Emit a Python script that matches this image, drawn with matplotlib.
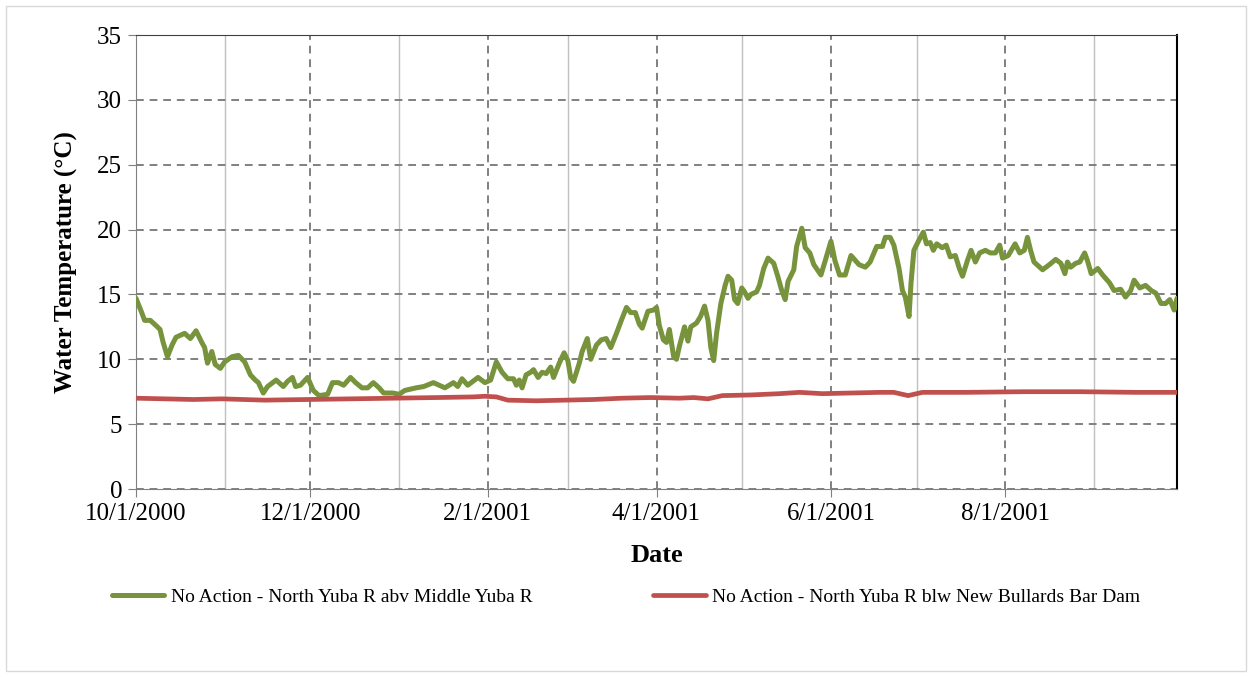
import numpy as np
import pandas as pd
import matplotlib
matplotlib.use('Agg')
from matplotlib import pyplot as plt
import matplotlib.dates as mdates
from matplotlib.patches import Rectangle

plt.rcParams['font.family'] = ['Liberation Serif', 'DejaVu Serif']

start_date = '2000-10-01'
end_date = '2001-09-30'

# days after 10/1/2000
green_day = [0, 2, 3, 5, 7, 8.4, 9.5, 11, 12.6, 14, 17, 19, 21, 23, 24, 25, 26.5, 27.7, 29.5, 31,
             33.6, 35.8, 38, 40, 41.7, 42.8, 44.5, 46, 49, 51.5, 53, 54.7, 55.8, 57.5, 60, 62, 64,
             67, 68.7, 70.8, 72.6, 75, 76.8, 79, 81, 83, 85, 86.6, 89.8, 92, 94, 98, 100.6, 104,
             106, 108, 111, 112.5, 114, 116, 119.6, 122, 124, 126, 128, 130, 132, 133, 134, 135,
             136.4, 138, 139, 140.6, 142, 143.4, 145, 146, 148, 149.7, 151, 152, 153, 155, 156,
             157.8, 159, 161, 162.7, 164.4, 166, 168, 169.7, 171.5, 173, 174.6, 176, 177, 179,
             181, 182, 183, 184.4, 185.5, 186.5, 188, 189, 190, 191.8, 193, 194, 196, 197.4,
             198.8, 200, 201, 202, 203, 204.5, 206, 207, 208.3, 209.3, 210.4, 211.8, 212.8, 214,
             215, 217, 218, 219.5, 221, 223, 224.4, 225.8, 227, 228, 230, 231, 232.8, 234, 235.6,
             237, 239.5, 241, 243, 244.4, 246, 248, 250, 252.8, 255, 256.7, 259, 261, 262, 263.7,
             265, 266.8, 268, 269, 270.3, 271, 272, 273.8, 275.3, 276.4, 277.7, 278.8, 280, 281.9,
             283.3, 284.7, 286.5, 287.9, 289, 290.7, 292, 293.5, 295, 297, 298.7, 300.5, 302, 303,
             305, 307.4, 309, 310.6, 311.7, 312.8, 314, 317, 319.4, 321.6, 323.4, 324.8, 325.7,
             326.8, 328.6, 330, 331.7, 332.7, 334, 336.3, 338, 340.4, 342, 344.3, 346, 347.8, 349,
             351, 353, 355, 356.6, 358.4, 360, 361.5, 363, 364]
green_temp = [14.7, 13.6, 13.0, 13.0, 12.6, 12.3, 11.3, 10.2, 11.1, 11.7, 12.0, 11.6, 12.2, 11.3, 10.9,
              9.7, 10.6, 9.6, 9.3, 9.8, 10.2, 10.3, 9.8, 8.8, 8.4, 8.2, 7.4, 7.9, 8.4, 7.9, 8.3, 8.6,
              7.9, 8.0, 8.6, 7.6, 7.2, 7.3, 8.2, 8.2, 8.0, 8.6, 8.2, 7.8, 7.8, 8.2, 7.8, 7.4, 7.4,
              7.3, 7.6, 7.8, 7.9, 8.2, 8.0, 7.8, 8.2, 7.9, 8.5, 8.0, 8.6, 8.2, 8.4, 9.8, 9.0, 8.5,
              8.5, 8.0, 8.4, 7.8, 8.8, 9.0, 9.2, 8.6, 9.0, 8.9, 9.4, 8.6, 9.7, 10.5, 9.9, 8.6, 8.3,
              9.7, 10.6, 11.6, 10.0, 11.1, 11.5, 11.6, 10.9, 12.0, 13.0, 14.0, 13.6, 13.6, 12.7,
              12.4, 13.7, 13.8, 14.0, 12.6, 11.5, 11.3, 12.3, 10.2, 10.0, 11.0, 12.5, 11.4, 12.5,
              12.8, 13.3, 14.1, 13.0, 10.9, 9.9, 12.0, 14.3, 15.7, 16.4, 16.1, 14.6, 14.3, 15.5,
              15.2, 14.7, 15.0, 15.2, 15.7, 17.0, 17.8, 17.4, 16.4, 15.3, 14.6, 16.0, 16.9, 18.7,
              20.1, 18.6, 18.2, 17.3, 16.5, 17.6, 19.1, 17.6, 16.5, 16.5, 18.0, 17.3, 17.1, 17.5,
              18.7, 18.7, 19.4, 19.4, 18.8, 17.0, 15.3, 14.8, 13.3, 15.9, 18.4, 19.2, 19.8, 18.9,
              19.0, 18.4, 18.9, 18.6, 18.8, 17.9, 18.0, 17.0, 16.4, 17.6, 18.4, 17.5, 18.2, 18.4,
              18.2, 18.2, 18.8, 17.8, 18.0, 18.9, 18.2, 18.4, 19.4, 18.4, 17.5, 16.9, 17.3, 17.7,
              17.4, 16.6, 17.5, 17.1, 17.4, 17.5, 18.2, 17.6, 16.6, 17.0, 16.5, 15.9, 15.3, 15.4,
              14.8, 15.3, 16.1, 15.5, 15.7, 15.3, 15.1, 14.3, 14.3, 14.6, 13.8, 14.7]

red_day = [0, 10, 20, 30, 45, 60, 75, 90, 105, 118, 122, 126, 130, 140, 150, 160, 170, 180, 190,
           195, 200, 205, 215, 225, 232, 240, 250, 260, 265, 270, 275, 290, 310, 330, 350, 364]
red_temp = [7.0, 6.95, 6.9, 6.95, 6.85, 6.9, 6.95, 7.0, 7.05, 7.1, 7.15, 7.1, 6.85, 6.8, 6.85, 6.9,
            7.0, 7.05, 7.0, 7.05, 6.95, 7.2, 7.25, 7.35, 7.45, 7.35, 7.4, 7.45, 7.45, 7.2, 7.45,
            7.45, 7.5, 7.5, 7.45, 7.45]

green_label = 'No Action - North Yuba R abv Middle Yuba R'
red_label = 'No Action - North Yuba R blw New Bullards Bar Dam'


def to_dates(days):
    return pd.Timestamp(start_date) + pd.to_timedelta(days, unit='D')


fig = plt.figure(figsize=(12.52, 6.77), dpi=100)
fig.patches.append(Rectangle((6 / 1252, 6 / 677), 1240 / 1252, 665 / 677, transform=fig.transFigure,
                             fill=False, edgecolor='#d9d9d9', linewidth=1))
ax = fig.add_axes([136 / 1252, 1 - 489 / 677, (1177 - 136) / 1252, (489 - 35) / 677])

ax.plot(to_dates(green_day), green_temp, color='#77933C', linewidth=3.6, label=green_label,
        solid_capstyle='round', solid_joinstyle='round', zorder=3)
ax.plot(to_dates(red_day), red_temp, color='#C0504D', linewidth=3.4, label=red_label,
        solid_capstyle='round', zorder=3)

ax.set_xlim(pd.Timestamp(start_date), pd.Timestamp(end_date))
ax.set_ylim(0, 35)
ax.set_yticks(np.arange(0, 36, 5))

ax.xaxis.set_major_locator(mdates.MonthLocator(bymonth=[2, 4, 6, 8, 10, 12]))
ax.xaxis.set_minor_locator(mdates.MonthLocator(bymonth=[1, 3, 5, 7, 9, 11]))
ax.xaxis.set_major_formatter(plt.FuncFormatter(
    lambda v, p: (lambda d: f'{d.month}/{d.day}/{d.year}')(mdates.num2date(v))))

ax.grid(True, which='major', axis='both', color='#808080', linestyle=(0, (4, 3)), linewidth=1.4)
ax.grid(True, which='minor', axis='x', color='#c0c0c0', linestyle='-', linewidth=1)
ax.set_axisbelow(True)

ax.tick_params(axis='both', which='major', labelsize=18, color='#808080', length=6, pad=4)
ax.tick_params(axis='x', which='minor', length=0)
for side in ['left', 'bottom']:
    ax.spines[side].set_color('#808080')
ax.spines['top'].set_color('#404040')
ax.spines['right'].set_color('#000000')
ax.spines['right'].set_linewidth(1.5)

ax.set_xlabel('Date', fontsize=19, fontweight='bold', labelpad=14)
ax.set_ylabel('Water Temperature (°C)', fontsize=18, fontweight='bold', labelpad=14)

fig.legend(loc='center', bbox_to_anchor=(0.5, 1 - 597 / 677), ncol=2, frameon=False,
           fontsize=14, handlelength=2.7, handletextpad=0.35, columnspacing=6.2)

fig.savefig('out.png', dpi=100)
